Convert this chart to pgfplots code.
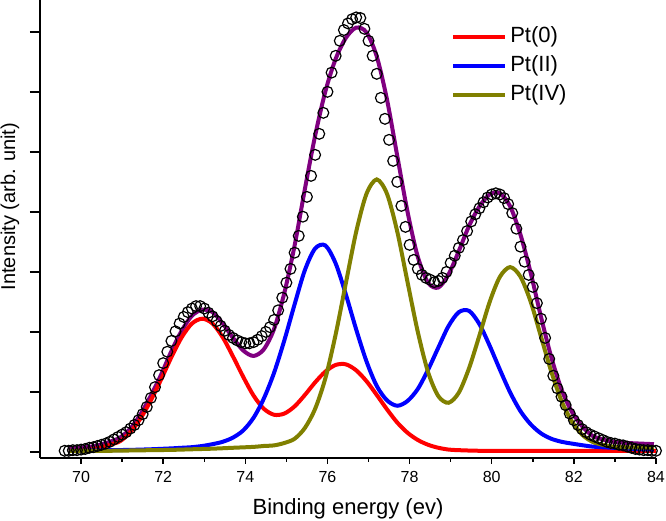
\documentclass[border=0pt]{standalone}
\usepackage{fontspec}
\setmainfont{Liberation Sans}
\usepackage{pgfplots}
\pgfplotsset{compat=1.18}
\definecolor{cred}{RGB}{255,0,0}
\definecolor{cblue}{RGB}{0,0,255}
\definecolor{colive}{RGB}{128,128,0}
\definecolor{cpurple}{RGB}{128,0,128}
\begin{document}
\begin{tikzpicture}
\begin{axis}[
  scale only axis, width=308pt, height=229pt,
  xmin=69, xmax=84, ymin=-0.1, ymax=7.53,
  axis lines*=left,
  axis line style={line width=0.75pt},
  xtick={70,72,...,84},
  minor x tick num=1,
  ytick={0,1,...,7}, yticklabels={},
  tick align=outside,
  major tick length=3pt, minor tick length=2pt,
  y tick style={/pgfplots/major tick length=5pt},
  tick style={line width=0.75pt, black},
  /pgf/number format/assume math mode=true,
  ticklabel style={font=\fontsize{8}{9}\selectfont},
  xlabel={Binding energy (ev)}, ylabel={Intensity (arb. unit)},
  xlabel style={font=\fontsize{11}{13}\selectfont, at={(axis description cs:0.5,0)}, anchor=center, yshift=-25.5pt},
  ylabel style={font=\fontsize{10}{12}\selectfont, at={(axis description cs:0,0.549)}, anchor=center, yshift=15pt},
  legend style={at={(rel axis cs:0.667,0.95)}, anchor=north west, draw=none, fill=none,
    inner sep=0pt, font=\fontsize{11}{13}\selectfont, row sep=1pt,
    nodes={inner sep=1.5pt, text height=8pt, text depth=2.5pt}},
  legend cell align=left,
  legend image code/.code={\draw[#1] (0pt,0pt) -- (26pt,0pt);},
]
\addplot[only marks, mark=o, mark size=2.7pt, mark options={line width=0.6pt, black}, forget plot] table {
69.6 0.02
69.7 0.02
69.8 0.03
69.9 0.03
70.0 0.04
70.1 0.05
70.2 0.07
70.3 0.08
70.4 0.10
70.5 0.12
70.6 0.14
70.7 0.17
70.8 0.21
70.9 0.25
71.0 0.29
71.1 0.33
71.2 0.39
71.3 0.45
71.4 0.53
71.5 0.63
71.6 0.75
71.7 0.90
71.8 1.08
71.9 1.28
72.0 1.48
72.1 1.67
72.2 1.85
72.3 2.01
72.4 2.14
72.5 2.25
72.6 2.33
72.7 2.39
72.8 2.43
72.9 2.43
73.0 2.39
73.1 2.32
73.2 2.26
73.3 2.18
73.4 2.10
73.5 2.02
73.6 1.95
73.7 1.90
73.8 1.86
73.9 1.83
74.0 1.81
74.1 1.81
74.2 1.83
74.3 1.87
74.4 1.93
74.5 2.00
74.6 2.08
74.7 2.20
74.8 2.36
74.9 2.57
75.0 2.82
75.1 3.05
75.2 3.32
75.3 3.60
75.4 3.92
75.5 4.25
75.6 4.60
75.7 4.95
75.8 5.30
75.9 5.65
76.0 6.00
76.1 6.32
76.2 6.60
76.3 6.85
76.4 7.03
76.5 7.14
76.6 7.21
76.7 7.24
76.8 7.23
76.9 7.05
77.0 6.85
77.1 6.60
77.2 6.30
77.3 5.90
77.4 5.55
77.5 5.20
77.6 4.85
77.7 4.50
77.8 4.10
77.9 3.75
78.0 3.45
78.1 3.20
78.2 3.05
78.3 2.95
78.4 2.90
78.5 2.87
78.6 2.83
78.7 2.85
78.8 2.90
78.9 3.00
79.0 3.15
79.1 3.27
79.2 3.40
79.3 3.53
79.4 3.68
79.5 3.84
79.6 3.96
79.7 4.06
79.8 4.16
79.9 4.24
80.0 4.29
80.1 4.31
80.2 4.29
80.3 4.23
80.4 4.13
80.5 3.98
80.6 3.72
80.7 3.42
80.8 3.17
80.9 2.95
81.0 2.75
81.1 2.48
81.2 2.22
81.3 1.90
81.4 1.55
81.5 1.27
81.6 1.06
81.7 0.92
81.8 0.78
81.9 0.64
82.0 0.53
82.1 0.45
82.2 0.38
82.3 0.33
82.4 0.29
82.5 0.26
82.6 0.23
82.7 0.20
82.8 0.17
82.9 0.15
83.0 0.14
83.1 0.12
83.2 0.11
83.3 0.09
83.4 0.07
83.5 0.05
83.6 0.04
83.7 0.03
83.8 0.03
83.9 0.02
84.0 0.02
};
\addplot[cpurple, line width=2pt, smooth, forget plot] table {
69.7 0.06
69.95 0.07
70.2 0.085
70.45 0.12
70.7 0.17
70.95 0.24
71.2 0.39
71.45 0.63
71.7 0.94
71.95 1.29
72.2 1.68
72.45 2.02
72.7 2.27
72.95 2.37
73.2 2.33
73.45 2.14
73.7 1.90
73.95 1.69
74.2 1.60
74.45 1.71
74.7 2.05
74.95 2.65
75.2 3.44
75.45 4.38
75.7 5.27
75.95 6.01
76.2 6.55
76.45 6.90
76.7 7.07
76.95 6.99
77.2 6.59
77.45 5.87
77.7 4.93
77.95 4.00
78.2 3.25
78.45 2.82
78.7 2.74
78.95 2.96
79.2 3.35
79.45 3.77
79.7 4.09
79.95 4.29
80.2 4.31
80.45 4.09
80.7 3.62
80.95 2.98
81.2 2.25
81.45 1.58
81.7 1.04
81.95 0.67
82.2 0.43
82.45 0.27
82.7 0.21
82.95 0.17
83.2 0.155
83.45 0.145
83.95 0.13
};
\addplot[cred, line width=2pt, smooth] table {
69.7 0.02
69.95 0.03
70.2 0.04
70.45 0.07
70.7 0.12
70.95 0.18
71.2 0.33
71.45 0.56
71.7 0.86
71.95 1.21
72.2 1.58
72.45 1.91
72.7 2.14
72.95 2.22
73.2 2.14
73.45 1.91
73.7 1.59
73.95 1.25
74.2 0.94
74.45 0.72
74.7 0.62
74.95 0.64
75.2 0.76
75.45 0.95
75.7 1.16
75.95 1.34
76.2 1.45
76.45 1.46
76.7 1.36
76.95 1.18
77.2 0.95
77.45 0.71
77.7 0.49
77.95 0.32
78.2 0.20
78.45 0.12
78.7 0.07
78.95 0.04
79.2 0.03
79.7 0.02
80.5 0.02
82.0 0.02
84.0 0.02
};
\addlegendentry{Pt(0)}
\addplot[cblue, line width=2pt, smooth] table {
69.7 0.02
70.2 0.025
70.7 0.03
71.2 0.035
71.7 0.045
72.2 0.06
72.45 0.07
72.7 0.08
72.95 0.10
73.2 0.13
73.45 0.17
73.7 0.24
73.95 0.36
74.2 0.57
74.45 0.89
74.7 1.32
74.95 1.86
75.2 2.46
75.45 3.03
75.7 3.39
75.95 3.44
76.2 3.14
76.45 2.62
76.7 2.04
76.95 1.51
77.2 1.10
77.45 0.86
77.7 0.77
77.95 0.85
78.2 1.05
78.45 1.37
78.7 1.74
78.95 2.10
79.2 2.33
79.45 2.35
79.7 2.13
79.95 1.77
80.2 1.37
80.45 0.99
80.7 0.68
80.95 0.46
81.2 0.31
81.45 0.22
81.7 0.17
81.95 0.14
82.45 0.09
82.95 0.07
83.45 0.05
83.95 0.04
};
\addlegendentry{Pt(II)}
\addplot[colive, line width=2pt, smooth] table {
69.7 0.02
70.2 0.02
70.7 0.02
71.2 0.025
71.7 0.03
72.2 0.035
72.7 0.045
73.2 0.055
73.7 0.07
74.2 0.085
74.45 0.10
74.7 0.11
74.95 0.15
75.2 0.22
75.45 0.40
75.7 0.72
75.95 1.23
76.2 1.96
76.45 2.82
76.7 3.67
76.95 4.30
77.2 4.54
77.45 4.30
77.7 3.67
77.95 2.83
78.2 2.00
78.45 1.33
78.7 0.93
78.95 0.82
79.2 0.99
79.45 1.40
79.7 1.94
79.95 2.50
80.2 2.92
80.45 3.08
80.7 2.92
80.95 2.50
81.2 1.92
81.45 1.34
81.7 0.85
81.95 0.51
82.2 0.29
82.45 0.17
82.7 0.12
82.95 0.09
83.2 0.08
83.95 0.07
};
\addlegendentry{Pt(IV)}
\coordinate (bl) at (rel axis cs:0,0);
\coordinate (tr) at (rel axis cs:1,1);
\end{axis}
\pgfresetboundingbox
\path[use as bounding box] ([shift={(-20pt,-31.5pt)}]bl) rectangle ([shift={(5pt,0pt)}]tr);
\end{tikzpicture}
\end{document}
